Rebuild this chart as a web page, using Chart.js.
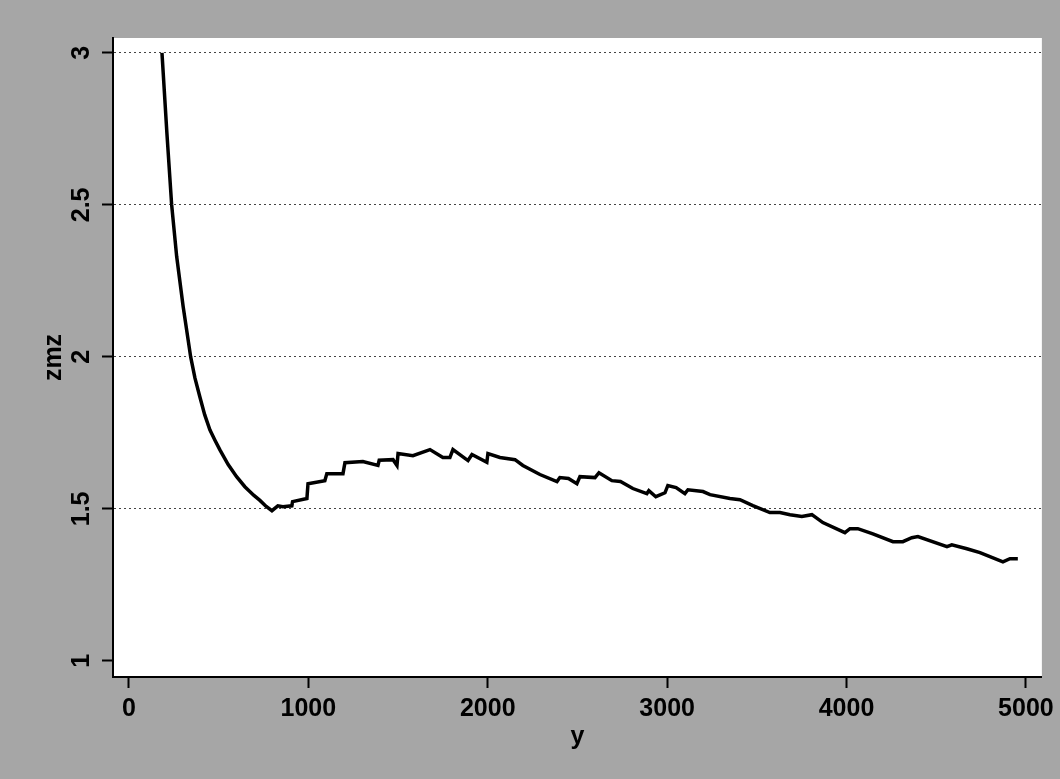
<!DOCTYPE html>
<html>
<head>
<meta charset="utf-8">
<script src="https://cdn.jsdelivr.net/npm/chart.js@4/dist/chart.umd.min.js"></script>
<style>
  html, body { margin: 0; padding: 0; background: #a6a6a6; }
  #wrap { width: 1060px; height: 779px; }
</style>
</head>
<body>
<div id="wrap"><canvas id="zmzChart" width="1060" height="779"></canvas></div>
<script>
// y (x axis) and zmz (y axis)
const yVals = [184, 211, 238, 266, 302, 344, 368, 395, 422, 451, 480, 507, 553, 600, 646, 695, 730, 765,
  797, 830, 858, 908, 912, 992, 998, 1092, 1103, 1193, 1204, 1304, 1388, 1395, 1472, 1494, 1500, 1583, 1678, 1750,
  1789, 1806, 1890, 1912, 1995, 2001, 2068, 2152, 2196, 2291, 2386, 2402, 2450, 2497, 2514, 2598, 2620, 2692, 2740, 2809,
  2887, 2898, 2937, 2988, 3004, 3050, 3099, 3116, 3200, 3239, 3350, 3406, 3478, 3573, 3629, 3685, 3751, 3807, 3868, 3991,
  4019, 4063, 4147, 4259, 4314, 4364, 4398, 4560, 4587, 4671, 4744, 4872, 4911, 4955];
const zmzVals = [3.0, 2.74, 2.5, 2.33, 2.166, 2.0, 1.93, 1.869, 1.81, 1.76, 1.725, 1.694, 1.646, 1.606, 1.573, 1.545, 1.528, 1.508,
  1.494, 1.51, 1.507, 1.51, 1.524, 1.534, 1.583, 1.593, 1.616, 1.616, 1.652, 1.656, 1.643, 1.66, 1.662, 1.643, 1.682, 1.675, 1.695, 1.669,
  1.669, 1.695, 1.659, 1.679, 1.653, 1.682, 1.669, 1.662, 1.643, 1.613, 1.59, 1.603, 1.6, 1.583, 1.606, 1.603, 1.619, 1.593, 1.59, 1.567,
  1.55, 1.56, 1.54, 1.553, 1.577, 1.57, 1.55, 1.563, 1.557, 1.547, 1.534, 1.53, 1.511, 1.488, 1.488, 1.481, 1.475, 1.481, 1.455, 1.422,
  1.435, 1.435, 1.418, 1.392, 1.392, 1.405, 1.409, 1.376, 1.382, 1.369, 1.356, 1.326, 1.336, 1.336];

const xTicks = [0, 1000, 2000, 3000, 4000, 5000];
const yTicks = [1, 1.5, 2, 2.5, 3];

const tickFont = { family: 'Liberation Sans, Arial, sans-serif', size: 25, weight: 'bold' };

// gray page with a white plot region
const backdrop = {
  id: 'backdrop',
  beforeDraw(chart) {
    const { ctx, chartArea } = chart;
    ctx.save();
    ctx.fillStyle = '#a6a6a6';
    ctx.fillRect(0, 0, chart.width, chart.height);
    ctx.fillStyle = '#ffffff';
    ctx.fillRect(chartArea.left, chartArea.top, chartArea.right - chartArea.left, chartArea.bottom - chartArea.top);
    ctx.restore();
  }
};

const ctx = document.getElementById('zmzChart').getContext('2d');
new Chart(ctx, {
  type: 'scatter',
  data: {
    datasets: [{
      label: 'zmz',
      data: yVals.map((x, i) => ({ x: x, y: zmzVals[i] })),
      showLine: true,
      borderColor: '#000',
      borderWidth: 3.5,
      pointRadius: 0,
      tension: 0
    }]
  },
  options: {
    responsive: false,
    animation: false,
    layout: { padding: { top: 38, right: 17, left: 0, bottom: 0 } },
    plugins: { legend: { display: false }, tooltip: { enabled: false } },
    scales: {
      x: {
        type: 'linear',
        min: -89,
        max: 5089,
        afterBuildTicks: (s) => { s.ticks = xTicks.map(v => ({ value: v })); },
        afterFit: (s) => { s.height = 102; },
        grid: { drawOnChartArea: false, tickLength: 11, tickColor: '#000', tickWidth: 2 },
        border: { color: '#000', width: 2 },
        ticks: { color: '#000', font: tickFont, padding: 6, maxRotation: 0, callback: v => String(v) },
        title: { display: true, text: 'y', color: '#000', font: tickFont, padding: { top: 0, bottom: 27 } }
      },
      y: {
        type: 'linear',
        min: 0.947,
        max: 3.049,
        afterBuildTicks: (s) => { s.ticks = yTicks.map(v => ({ value: v })); },
        afterFit: (s) => { s.width = 113; },
        grid: {
          color: (c) => (c.tick && c.tick.value === 1 ? 'rgba(0,0,0,0)' : '#444'),
          lineWidth: 1,
          tickLength: 11,
          tickColor: '#000',
          tickWidth: 2,
          tickBorderDash: []
        },
        border: { color: '#000', width: 2, dash: [2, 3] },
        ticks: { color: '#000', font: tickFont, padding: 3, minRotation: 90, maxRotation: 90, crossAlign: 'center', callback: v => String(v) },
        title: { display: true, text: 'zmz', color: '#000', font: tickFont, padding: { top: 39, bottom: 0 } }
      }
    }
  },
  plugins: [backdrop]
});
</script>
</body>
</html>
